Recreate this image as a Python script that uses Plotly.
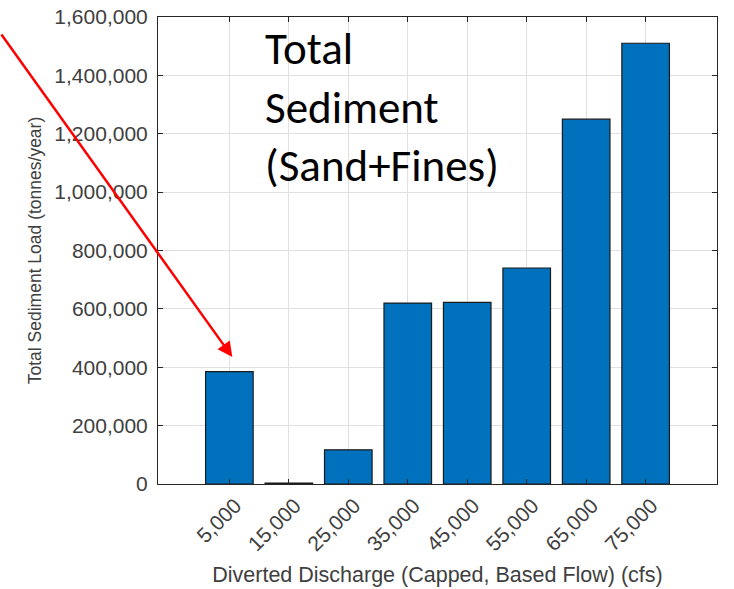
import plotly.graph_objects as go

# data
discharge = [5000, 15000, 25000, 35000, 45000, 55000, 65000, 75000]
sediment_load = [385000, 3000, 117000, 620000, 622000, 740000, 1250000, 1510000]
tick_labels = ["5,000", "15,000", "25,000", "35,000", "45,000", "55,000", "65,000", "75,000"]
y_ticks = [0, 200000, 400000, 600000, 800000, 1000000, 1200000, 1400000, 1600000]

fig = go.Figure()

fig.add_trace(go.Bar(
    x=discharge,
    y=sediment_load,
    width=8000,
    marker=dict(color='#0072BD', line=dict(color='#1a1a1a', width=1.2)),
    showlegend=False
))

axis_common = dict(
    showline=True,
    linecolor='#262626',
    linewidth=1,
    mirror='ticks',
    ticks='inside',
    ticklen=5,
    tickcolor='#262626',
    showgrid=True,
    gridcolor='#e0e0e0',
    gridwidth=1,
    zeroline=False,
    automargin=False,
    tickfont=dict(family='Liberation Sans, Arial', size=21, color='#404040'),
)

fig.update_xaxes(
    range=[-7000, 87000],
    tickvals=discharge,
    ticktext=tick_labels,
    tickangle=-45,
    ticklabelshift=6,
    title=dict(text='Diverted Discharge (Capped, Based Flow) (cfs)', standoff=12,
               font=dict(family='Liberation Sans, Arial', size=21.5, color='#404040')),
    **axis_common
)

fig.update_yaxes(
    range=[0, 1600000],
    tickvals=y_ticks,
    tickformat=',d',
    ticklabelstandoff=5,
    title=dict(text='Total Sediment Load (tonnes/year)', standoff=8,
               font=dict(family='Liberation Sans, Arial', size=17.5, color='#404040')),
    **axis_common
)

# big label inside the plot
fig.add_annotation(
    text='Total<br>Sediment<br>(Sand+Fines)',
    xref='paper', yref='paper',
    x=0.188, y=0.996,
    xanchor='left', yanchor='top',
    align='left',
    showarrow=False,
    font=dict(family='Carlito, Open Sans', size=45, color='black')
)

# red pointer arrow to the 5,000 cfs bar
fig.add_annotation(
    x=5500, y=435000,
    xref='x', yref='y',
    ax=-232, ay=-324,
    showarrow=True,
    arrowhead=2,
    arrowsize=1.2,
    arrowwidth=2.5,
    arrowcolor='#ff0000',
    text=''
)

fig.update_layout(
    width=734,
    height=589,
    margin=dict(l=158, r=17, t=17, b=105),
    plot_bgcolor='white',
    paper_bgcolor='white',
    bargap=0.2,
)

# drop the default 8px page margin so the figure sits at the window corner
fig.write_html('out.html', config={'displayModeBar': False},
               post_script="document.body.style.margin='0';")
